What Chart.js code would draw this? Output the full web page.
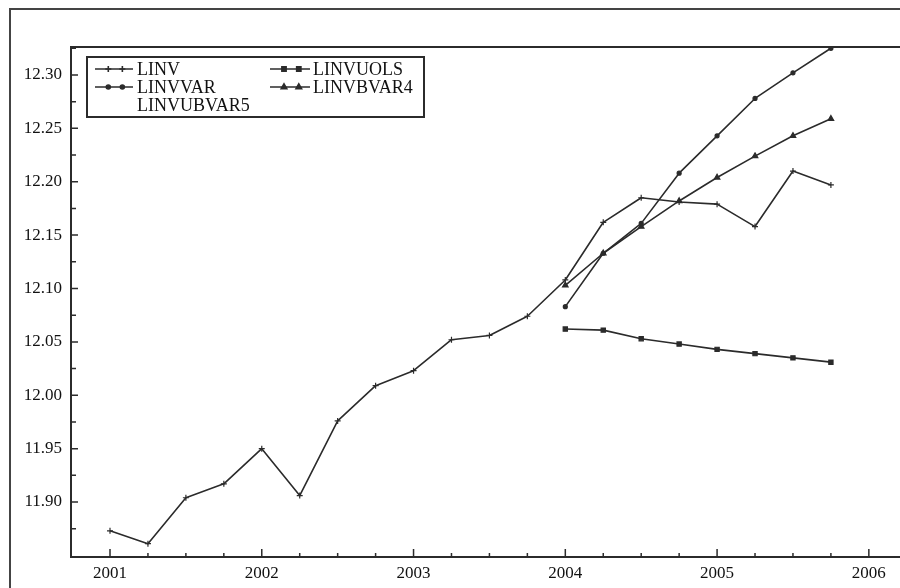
<!DOCTYPE html>
<html>
<head>
<meta charset="utf-8">
<script src="https://cdn.jsdelivr.net/npm/chart.js@4.4.1/dist/chart.umd.min.js"></script>
<style>
  html, body { margin: 0; padding: 0; background: #fff; overflow: hidden; }
  #wrap { position: relative; width: 900px; height: 588px; }
  canvas { display: block; }
</style>
</head>
<body>
<div id="wrap"><canvas id="c" width="900" height="588"></canvas></div>
<script>
// Quarterly time axis (decimal years)
const quarters = [2001.00, 2001.25, 2001.50, 2001.75, 2002.00, 2002.25, 2002.50, 2002.75,
                  2003.00, 2003.25, 2003.50, 2003.75, 2004.00, 2004.25, 2004.50, 2004.75,
                  2005.00, 2005.25, 2005.50, 2005.75];
const forecastQuarters = [2004.00, 2004.25, 2004.50, 2004.75, 2005.00, 2005.25, 2005.50, 2005.75];

// Log investment, actual
const linv = [11.873, 11.861, 11.904, 11.917, 11.950, 11.906, 11.976, 12.009,
              12.023, 12.052, 12.056, 12.074, 12.108, 12.162, 12.185, 12.181,
              12.179, 12.158, 12.210, 12.197];
// Forecasts from 2004Q1
const linvvar   = [12.083, 12.133, 12.161, 12.208, 12.243, 12.278, 12.302, 12.325];
const linvuols  = [12.062, 12.061, 12.053, 12.048, 12.043, 12.039, 12.035, 12.031];
const linvbvar4 = [12.103, 12.133, 12.158, 12.182, 12.204, 12.224, 12.243, 12.259];
const linvubvar5 = [];

const yTickValues = [11.90, 11.95, 12.00, 12.05, 12.10, 12.15, 12.20, 12.25, 12.30];
const xTickValues = [2001, 2002, 2003, 2004, 2005, 2006];

const INK = '#2b2b2b';
const FONT = '"Liberation Serif", "Times New Roman", serif';

function pts(xs, ys) { return ys.map((v, i) => ({ x: xs[i], y: v })); }

function series(label, xs, ys, style, radius, legendRow, legendCol, showSample) {
  return {
    label, data: pts(xs, ys),
    borderColor: INK, backgroundColor: INK, borderWidth: 1.6,
    pointStyle: style, pointRadius: radius, pointBorderWidth: 1.2,
    pointBackgroundColor: INK, pointBorderColor: INK,
    tension: 0, fill: false,
    legendRow, legendCol, showSample
  };
}

const datasets = [
  series('LINV', quarters, linv, 'cross', 3, 0, 0, true),
  series('LINVVAR', forecastQuarters, linvvar, 'circle', 2, 1, 0, true),
  series('LINVUBVAR5', forecastQuarters, linvubvar5, 'circle', 0, 2, 0, false),
  series('LINVUOLS', forecastQuarters, linvuols, 'rect', 3, 0, 1, true),
  series('LINVBVAR4', forecastQuarters, linvbvar4, 'triangle', 3.2, 1, 1, true)
];

// Outer frame, top plot edge, inward tick marks and the boxed legend
const decor = {
  id: 'decor',
  beforeDraw(chart) {
    const ctx = chart.ctx;
    ctx.save();
    ctx.fillStyle = '#fff';
    ctx.fillRect(0, 0, chart.width, chart.height);
    ctx.strokeStyle = '#444';
    ctx.lineWidth = 2;
    ctx.beginPath();
    ctx.moveTo(10, chart.height + 2);
    ctx.lineTo(10, 9);
    ctx.lineTo(chart.width + 2, 9);
    ctx.stroke();
    ctx.restore();
  },
  afterDraw(chart) {
    const ctx = chart.ctx;
    const a = chart.chartArea;
    const xs = chart.scales.x, ys = chart.scales.y;
    ctx.save();
    ctx.strokeStyle = INK;
    ctx.lineWidth = 2;
    ctx.beginPath();
    ctx.moveTo(a.left, a.top);
    ctx.lineTo(chart.width + 2, a.top);
    ctx.moveTo(a.right, a.bottom);
    ctx.lineTo(chart.width + 2, a.bottom);
    ctx.stroke();

    ctx.lineWidth = 1.5;
    ctx.beginPath();
    yTickValues.forEach(v => {
      const p = ys.getPixelForValue(v);
      ctx.moveTo(a.left, p); ctx.lineTo(a.left + 7, p);
      const m = ys.getPixelForValue(v + 0.025);
      if (m > a.top) { ctx.moveTo(a.left, m); ctx.lineTo(a.left + 5, m); }
    });
    const m0 = ys.getPixelForValue(yTickValues[0] - 0.025);
    if (m0 < a.bottom) { ctx.moveTo(a.left, m0); ctx.lineTo(a.left + 5, m0); }
    xTickValues.forEach(v => {
      const p = xs.getPixelForValue(v);
      ctx.moveTo(p, a.bottom); ctx.lineTo(p, a.bottom - 8);
      [0.25, 0.5, 0.75, -0.25, -0.5, -0.75].forEach(f => {
        const q = xs.getPixelForValue(v + f);
        if (q > a.left + 2 && q < chart.width && (v + f < xTickValues[0] || f > 0))
          { ctx.moveTo(q, a.bottom); ctx.lineTo(q, a.bottom - 4); }
      });
    });
    ctx.stroke();

    // legend
    const box = { x: 87, y: 57, w: 337, h: 60 };
    ctx.fillStyle = '#fff';
    ctx.fillRect(box.x, box.y, box.w, box.h);
    ctx.lineWidth = 2;
    ctx.strokeRect(box.x, box.y, box.w, box.h);
    const colX = [{ s: 95, e: 133, t: 137 }, { s: 270, e: 310, t: 313 }];
    const rowY = [69, 87, 105];
    ctx.font = '18px ' + FONT;
    ctx.textBaseline = 'middle';
    ctx.textAlign = 'left';
    chart.data.datasets.forEach(ds => {
      const c = colX[ds.legendCol], y = rowY[ds.legendRow];
      if (ds.showSample) {
        ctx.strokeStyle = INK; ctx.lineWidth = 1.6;
        ctx.beginPath(); ctx.moveTo(c.s, y); ctx.lineTo(c.e, y); ctx.stroke();
        const opts = { pointStyle: ds.pointStyle, radius: ds.pointRadius, rotation: 0, borderWidth: 1.2 };
        ctx.fillStyle = INK;
        [c.s + (c.e - c.s) * 0.35, c.s + (c.e - c.s) * 0.72].forEach(px =>
          Chart.helpers.drawPoint(ctx, opts, px, y));
      }
      ctx.fillStyle = '#111';
      ctx.fillText(ds.label, c.t, y + 1);
    });
    ctx.restore();
  }
};

new Chart(document.getElementById('c'), {
  type: 'line',
  data: { datasets },
  plugins: [decor],
  options: {
    responsive: false,
    animation: false,
    devicePixelRatio: 1,
    layout: { padding: { left: 0, top: 47, right: 0, bottom: 0 } },
    plugins: { legend: { display: false }, tooltip: { enabled: false } },
    elements: { line: { borderJoinStyle: 'round' } },
    scales: {
      x: {
        type: 'linear',
        min: 2000.743, max: 2006.171,
        afterFit(s) { s.height = 31; },
        afterBuildTicks(s) { s.ticks = xTickValues.map(v => ({ value: v })); },
        grid: { display: false, drawTicks: false },
        border: { display: true, color: INK, width: 2 },
        ticks: { color: '#111', padding: 6, maxRotation: 0, autoSkip: false,
                 font: { family: FONT, size: 17 }, callback: v => String(v) }
      },
      y: {
        type: 'linear',
        min: 11.8485, max: 12.3262,
        afterFit(s) { s.width = 71; },
        afterBuildTicks(s) { s.ticks = yTickValues.map(v => ({ value: v })); },
        grid: { display: false, drawTicks: false },
        border: { display: true, color: INK, width: 2 },
        ticks: { color: '#111', padding: 9, autoSkip: false,
                 font: { family: FONT, size: 17 }, callback: v => v.toFixed(2) }
      }
    }
  }
});
</script>
</body>
</html>
